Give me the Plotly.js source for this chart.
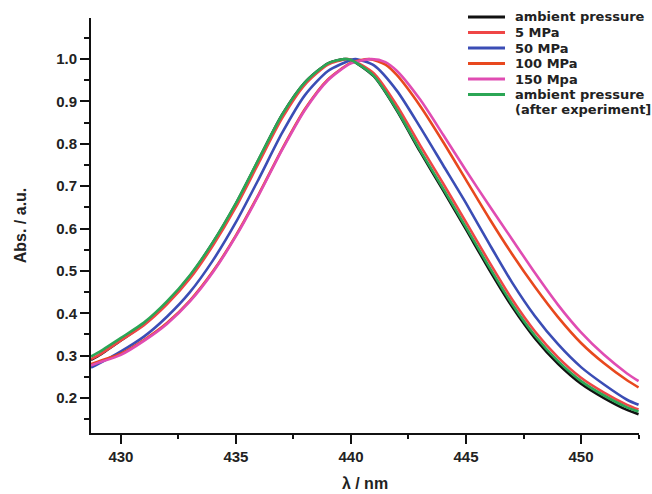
<!DOCTYPE html>
<html>
<head>
<meta charset="utf-8">
<script src="https://cdn.plot.ly/plotly-3.0.1.min.js"></script>
<style>html,body{margin:0;padding:0;background:#fff;}#chart{width:652px;height:494px;}</style>
</head>
<body>
<div id="chart"></div>
<script>
// Series names and colours
const seriesNames = ["ambient pressure", "5 MPa", "50 MPa", "100 MPa", "150 Mpa", "ambient pressure (after experiment]"];
const legendLabels = ["ambient pressure", "5 MPa", "50 MPa", "100 MPa", "150 Mpa", "ambient pressure", "(after experiment]"];
const seriesColors = ["#111111", "#ef4646", "#3b4db5", "#e8481e", "#e04cb2", "#2ba655"];

// Wavelengths (nm) per series
const wlAmbient = [428.7,429,430,431,432,433,434,435,436,437,438,439,439.7,440,441,442,443,444,445,446,447,448,449,450,451,452,452.5];
const wl5 = [428.7,429,430,431,432,433,434,435,436,437,438,439,439.8,440,441,442,443,444,445,446,447,448,449,450,451,452,452.5];
const wl50 = [428.7,429,430,431,432,433,434,435,436,437,438,439,440,440.2,441,442,443,444,445,446,447,448,449,450,451,452,452.5];
const wl100 = [428.7,429,430,431,432,433,434,435,436,437,438,439,440,440.8,441.5,442,443,444,445,446,447,448,449,450,451,452,452.5];
const wl150 = [428.7,429,430,431,432,433,434,435,436,437,438,439,440,440.9,441.5,442,443,444,445,446,447,448,449,450,451,452,452.5];
const wlAfter = [428.7,429,430,431,432,433,434,435,436,437,438,439,439.7,440,441,442,443,444,445,446,447,448,449,450,451,452,452.5];

// Normalised absorbance per series
const absAmbient = [0.290,0.299,0.336,0.374,0.425,0.488,0.567,0.659,0.764,0.868,0.945,0.990,1.000,0.998,0.959,0.878,0.782,0.691,0.598,0.504,0.416,0.341,0.281,0.234,0.200,0.172,0.162];
const abs5 = [0.292,0.300,0.336,0.372,0.421,0.482,0.560,0.651,0.756,0.860,0.940,0.987,1.000,0.999,0.966,0.890,0.797,0.707,0.615,0.522,0.433,0.357,0.296,0.248,0.213,0.184,0.173];
const abs50 = [0.272,0.280,0.310,0.345,0.392,0.450,0.525,0.615,0.718,0.825,0.915,0.972,0.998,1.000,0.985,0.925,0.840,0.750,0.660,0.565,0.473,0.393,0.327,0.273,0.232,0.196,0.184];
const abs100 = [0.280,0.286,0.305,0.337,0.377,0.430,0.499,0.584,0.682,0.787,0.882,0.952,0.991,1.000,0.987,0.962,0.890,0.805,0.715,0.625,0.540,0.462,0.391,0.330,0.282,0.242,0.225];
const abs150 = [0.277,0.283,0.302,0.335,0.375,0.428,0.497,0.582,0.680,0.785,0.880,0.950,0.990,1.000,0.993,0.972,0.905,0.822,0.737,0.655,0.575,0.495,0.420,0.355,0.302,0.258,0.240];
const absAfter = [0.298,0.307,0.342,0.378,0.428,0.490,0.568,0.660,0.765,0.868,0.945,0.990,1.000,0.998,0.960,0.880,0.785,0.695,0.603,0.510,0.422,0.347,0.287,0.240,0.206,0.178,0.168];

// Axis ticks
const xTickVals = [430, 435, 440, 445, 450];
const yTickVals = [0.2, 0.3, 0.4, 0.5, 0.6, 0.7, 0.8, 0.9, 1.0];

const xs = [wlAmbient, wl5, wl50, wl100, wl150, wlAfter];
const ys = [absAmbient, abs5, abs50, abs100, abs150, absAfter];

const traces = xs.map((x, i) => ({
  type: "scatter", mode: "lines", x: x, y: ys[i], name: seriesNames[i],
  line: {color: seriesColors[i], width: 2.6, shape: "spline", smoothing: 0.7},
  showlegend: false, hoverinfo: "skip"
}));

// compact legend drawn in paper coordinates (plot area: x 91..639, y 18..433)
const PL = 91, PR = 639, PT = 18, PB = 433;
const px2x = p => (p - PL) / (PR - PL);
const px2y = p => (PB - p) / (PB - PT);
const rowY = [17, 32.5, 48, 63.5, 79, 94.5, 109];
const shapes = [];
const annotations = [];
legendLabels.forEach((lab, i) => {
  if (i < seriesColors.length) {
    shapes.push({type: "line", xref: "paper", yref: "paper",
      x0: px2x(468), x1: px2x(505), y0: px2y(rowY[i]), y1: px2y(rowY[i]),
      line: {color: seriesColors[i], width: 3}});
  }
  annotations.push({xref: "paper", yref: "paper", x: px2x(514), y: px2y(rowY[i]),
    xanchor: "left", yanchor: "middle", showarrow: false, text: lab, borderpad: 0,
    font: {family: "DejaVu Sans, sans-serif", size: 13, color: "#222", weight: "bold"}});
});

const tickFont = {family: "Liberation Sans, Arial, sans-serif", size: 15, color: "#222", weight: "bold"};
const layout = {
  width: 652, height: 494,
  margin: {l: PL, r: 652 - PR, t: PT, b: 494 - PB},
  paper_bgcolor: "#fff", plot_bgcolor: "#fff",
  xaxis: {
    range: [428.7, 452.52], tickvals: xTickVals, ticks: "outside", ticklen: 9, tickwidth: 2,
    tickcolor: "#111", showline: true, linecolor: "#111", linewidth: 2, showgrid: false, zeroline: false,
    tickfont: tickFont,
    minor: {dtick: 2.5, tick0: 430, ticks: "outside", ticklen: 4, tickwidth: 2, tickcolor: "#111", showgrid: false},
    title: {text: "λ / nm", font: {family: "Liberation Sans, Arial, sans-serif", size: 16, color: "#222", weight: "bold"}, standoff: 14}
  },
  yaxis: {
    range: [0.1175, 1.097], tickvals: yTickVals, tickformat: ".1f", ticks: "outside", ticklen: 9, tickwidth: 2,
    tickcolor: "#111", showline: true, linecolor: "#111", linewidth: 2, showgrid: false, zeroline: false,
    tickfont: tickFont,
    minor: {dtick: 0.05, tick0: 0, ticks: "outside", ticklen: 5, tickwidth: 2, tickcolor: "#111", showgrid: false},
    title: {text: "Abs. / a.u.", font: {family: "Liberation Sans, Arial, sans-serif", size: 16, color: "#222", weight: "bold"}, standoff: 26}
  },
  shapes: shapes,
  annotations: annotations
};

Plotly.newPlot("chart", traces, layout, {displayModeBar: false, staticPlot: true});
</script>
</body>
</html>
